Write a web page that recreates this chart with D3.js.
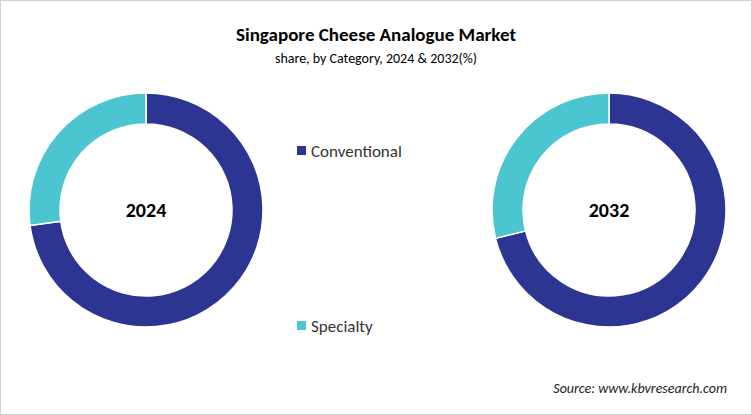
<!DOCTYPE html>
<html><head><meta charset="utf-8">
<script src="https://cdn.jsdelivr.net/npm/d3@7"></script>
<style>body{margin:0;background:#fff;font-family:Calibri,Carlito,"Open Sans",sans-serif}</style>
</head><body><div id="chart"></div>
<script>
// data
var categories = ["Conventional", "Specialty"];
var years = ["2024", "2032"];
var share2024 = [72.9, 27.1];
var share2032 = [71.1, 28.9];
var colors = ["#2c3592", "#4bc5d0"];

var width = 752, height = 415;
var svg = d3.select("#chart").append("svg")
    .attr("width", width).attr("height", height);

svg.append("rect").attr("x", 0.5).attr("y", 0.5).attr("width", width - 1).attr("height", height - 1)
    .attr("fill", "#fff").attr("stroke", "#d0d0d0");

svg.append("text").attr("x", 376).attr("y", 41).attr("text-anchor", "middle")
    .style("font-size", "19px").style("font-weight", "bold").text("Singapore Cheese Analogue Market");
svg.append("text").attr("x", 376).attr("y", 63).attr("text-anchor", "middle")
    .style("font-size", "14px").text("share, by Category, 2024 & 2032(%)");

var pie = d3.pie().sort(null);
var arc = d3.arc().innerRadius(86).outerRadius(117);
var centers = [[146, 210], [609, 210]];

[share2024, share2032].forEach(function (vals, k) {
    var g = svg.append("g").attr("transform", "translate(" + centers[k][0] + "," + centers[k][1] + ")");
    g.selectAll("path").data(pie(vals)).enter().append("path")
        .attr("d", arc).attr("fill", function (d, i) { return colors[i]; })
        .attr("stroke", "#fff").attr("stroke-width", 1.5);
    g.append("text").attr("text-anchor", "middle").attr("dy", "0.35em")
        .style("font-size", "20px").style("font-weight", "bold").text(years[k]);
});

var legendY = [151, 326];
categories.forEach(function (c, i) {
    svg.append("rect").attr("x", 297).attr("y", legendY[i] - 5).attr("width", 9).attr("height", 9).attr("fill", colors[i]);
    svg.append("text").attr("x", 311).attr("y", legendY[i]).attr("dy", "0.35em")
        .style("font-size", "17px").attr("fill", "#333").text(c);
});

svg.append("text").attr("x", 727).attr("y", 393).attr("text-anchor", "end")
    .style("font-size", "14px").style("font-style", "italic").attr("fill", "#222")
    .text("Source: www.kbvresearch.com");
</script></body></html>
